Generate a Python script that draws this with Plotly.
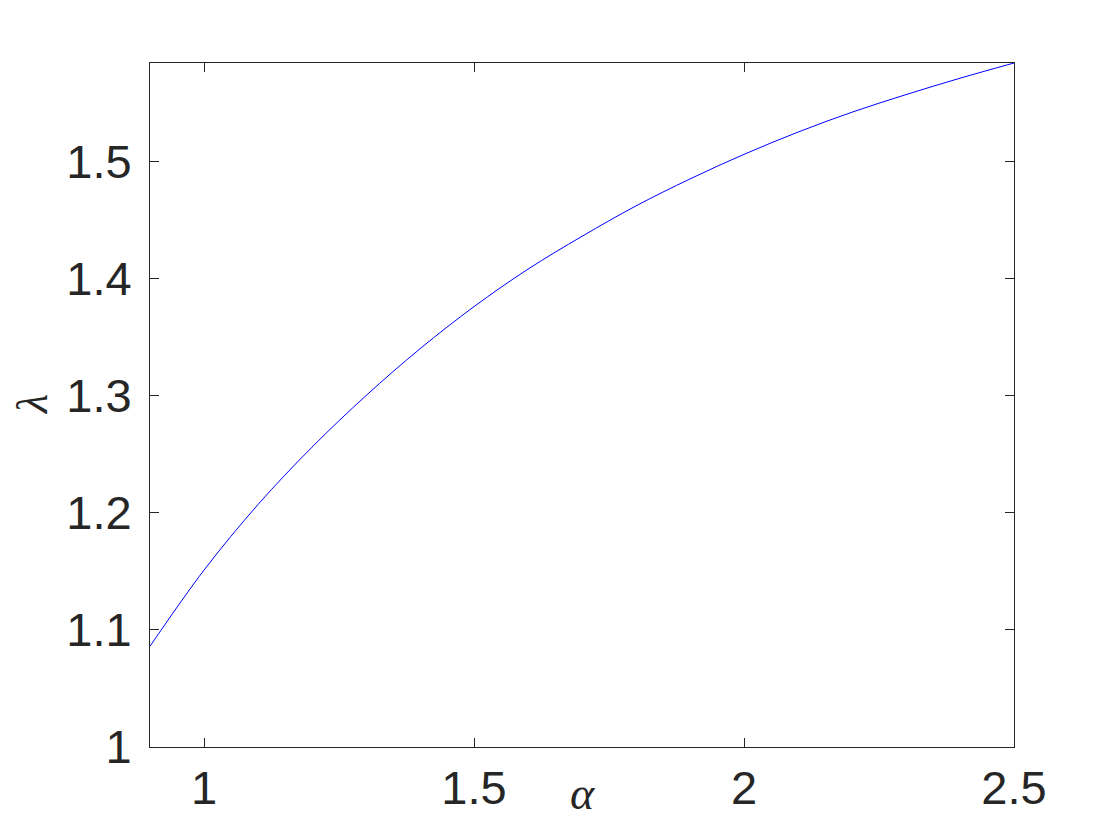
import plotly.graph_objects as go

# Data
alpha = [0.9, 1.0, 1.1, 1.2, 1.3, 1.4, 1.5, 1.6, 1.7, 1.8, 1.9, 2.0, 2.1, 2.2, 2.3, 2.4, 2.5]
lam = [1.086, 1.151, 1.207, 1.256, 1.300, 1.340, 1.376, 1.408, 1.436, 1.462,
       1.485, 1.506, 1.525, 1.542, 1.557, 1.571, 1.584]

x_ticks = [1, 1.5, 2, 2.5]
x_ticklabels = ["1", "1.5", "2", "2.5"]
y_ticks = [1, 1.1, 1.2, 1.3, 1.4, 1.5]
y_ticklabels = ["1", "1.1", "1.2", "1.3", "1.4", "1.5"]

fig = go.Figure()
fig.add_trace(go.Scatter(x=alpha, y=lam, mode="lines",
                         line=dict(color="#0000ff", width=1, shape="spline", smoothing=1.0),
                         showlegend=False, hoverinfo="skip"))

axis_common = dict(
    showgrid=False, zeroline=False, showline=True, linecolor="#262626", linewidth=1,
    mirror="ticks", ticks="inside", ticklen=9, tickwidth=1, tickcolor="#262626",
    tickfont=dict(family="Liberation Sans, Arial, sans-serif", size=47, color="#262626"),
)

fig.update_layout(
    width=1120, height=840,
    margin=dict(l=142, r=114, t=55, b=101),
    paper_bgcolor="white", plot_bgcolor="white",
    xaxis=dict(range=[0.9, 2.5], tickvals=x_ticks, ticktext=x_ticklabels, **axis_common),
    yaxis=dict(range=[1.0, 1.584], tickvals=y_ticks, ticktext=y_ticklabels, ticklabelstandoff=8, **axis_common),
    annotations=[
        dict(text="α", x=0.5, y=0, xref="paper", yref="paper", showarrow=False,
             xanchor="center", yanchor="middle", yshift=-46,
             font=dict(family="Liberation Serif, serif", size=46, color="#262626", style="italic")),
        dict(text="λ", x=0, y=0.5, xref="paper", yref="paper", showarrow=False,
             xanchor="center", yanchor="middle", xshift=-118, textangle=-90,
             font=dict(family="Liberation Serif, serif", size=44, color="#262626", style="italic")),
    ],
)

fig.write_html("out.html")
